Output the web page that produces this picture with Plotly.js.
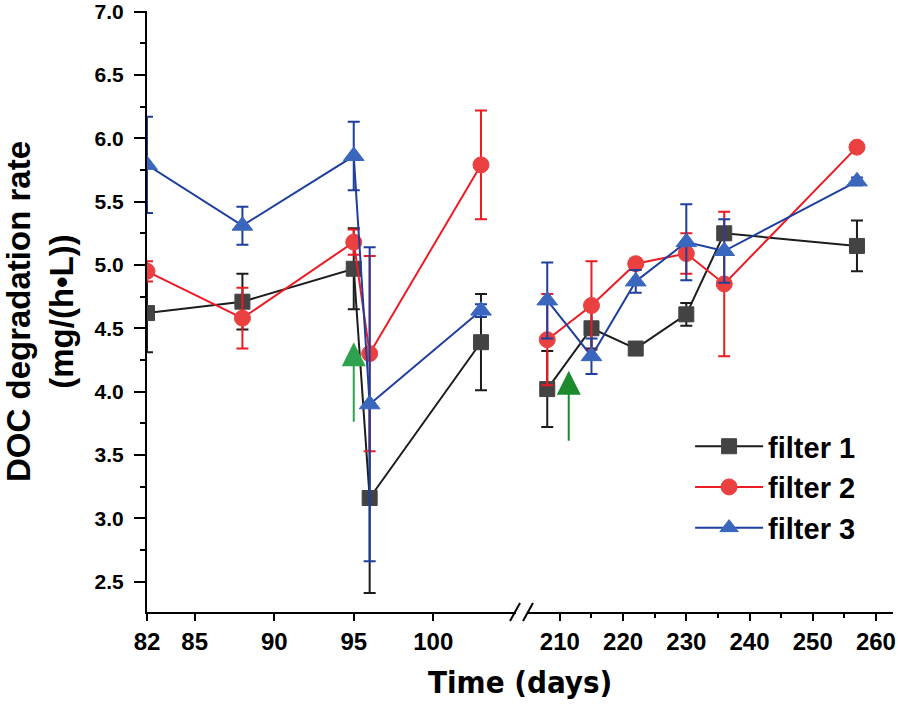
<!DOCTYPE html>
<html>
<head>
<meta charset="utf-8">
<script src="https://cdn.plot.ly/plotly-3.0.1.min.js"></script>
<style>html,body{margin:0;padding:0;background:#fff;}#chart{width:898px;height:705px;}</style>
</head>
<body>
<div id="chart"></div>
<script>
// ---- data ----
const seriesNames = ["filter 1", "filter 2", "filter 3"];

const daysEarly = [82, 88, 95, 96, 103];
const daysLate  = [208, 215, 222, 230, 236, 257];

const filter1Early = [4.62, 4.71, 4.97, 3.16, 4.39];
const filter1EarlyErr = [0.31, 0.22, 0.32, 0.75, 0.38];
const filter1Late = [4.02, 4.50, 4.34, 4.61, 5.25, 5.15];
const filter1LateErr = [0.30, 0.16, 0.05, 0.09, 0.05, 0.20];

const filter2Early = [4.95, 4.58, 5.18, 4.30, 5.79];
const filter2EarlyErr = [0.08, 0.24, 0.10, 0.77, 0.43];
const filter2Late = [4.41, 4.68, 5.01, 5.09, 4.85, 5.93];
const filter2LateErr = [0.36, 0.35, 0.04, 0.16, 0.57, 0.03];

const filter3Early = [5.79, 5.31, 5.86, 3.90, 4.64];
const filter3EarlyErr = [0.38, 0.15, 0.27, 1.24, 0.05];
const filter3Late = [4.72, 4.28, 4.87, 5.18, 5.11, 5.66];
const filter3LateErr = [0.30, 0.14, 0.09, 0.30, 0.25, 0.03];

const earlyTicks = [82, 85, 90, 95, 100];
const lateTicks = [210, 220, 230, 240, 250, 260];
const lateMinorTicks = [215, 225, 235, 245, 255];
const yTicks = [2.5, 3.0, 3.5, 4.0, 4.5, 5.0, 5.5, 6.0, 6.5, 7.0];

// arrows marking events: [x, tipY, tailY]
const arrowEarly = [95, 4.39, 3.75];
const arrowLate = [211.4, 4.165, 3.60];

// ---- styles ----
const styles = [
  {line: "#1c1c1c", fill: "#434343", symbol: "square", size: 15},
  {line: "#ec1c24", fill: "#ea4040", symbol: "circle", size: 16},
  {line: "#1f3f9f", fill: "#3a67bd", symbol: "triangle-up", size: 18}
];
const early = [filter1Early, filter2Early, filter3Early];
const earlyErr = [filter1EarlyErr, filter2EarlyErr, filter3EarlyErr];
const late = [filter1Late, filter2Late, filter3Late];
const lateErr = [filter1LateErr, filter2LateErr, filter3LateErr];

const traces = [];
for (let i = 0; i < 3; i++) {
  const s = styles[i];
  const common = {
    type: "scatter", mode: "lines+markers",
    line: {color: s.line, width: 2},
    marker: {symbol: s.symbol, size: s.size, color: s.fill, line: {color: s.fill, width: 1}},
    legendgroup: "g" + i, name: seriesNames[i], cliponaxis: true
  };
  traces.push(Object.assign({}, common, {
    x: daysEarly, y: early[i], xaxis: "x", yaxis: "y", showlegend: true,
    error_y: {type: "data", array: earlyErr[i], visible: true, color: s.line, thickness: 2, width: 6}
  }));
  traces.push(Object.assign({}, common, {
    x: daysLate, y: late[i], xaxis: "x2", yaxis: "y", showlegend: false,
    error_y: {type: "data", array: lateErr[i], visible: true, color: s.line, thickness: 2, width: 6}
  }));
}

const narrow = "'Liberation Sans Narrow', 'Arial Narrow', 'DejaVu Sans Condensed', sans-serif";
const arial = "'Liberation Sans', Arial, sans-serif";

const xCommon = {
  showline: true, linecolor: "#000", linewidth: 2, ticks: "outside", ticklen: 7, tickwidth: 2,
  tickcolor: "#000", showgrid: false, zeroline: false, ticklabeloverflow: "allow",
  tickfont: {family: arial, size: 24, color: "#000", weight: "bold"}, anchor: "y"
};

const layout = {
  width: 898, height: 705,
  margin: {l: 147, r: 5, t: 11, b: 93},
  paper_bgcolor: "#fff", plot_bgcolor: "#fff",
  showlegend: true,
  xaxis: Object.assign({}, xCommon, {domain: [0, 0.4946], range: [82, 105.2], tickmode: "array", tickvals: earlyTicks}),
  xaxis2: Object.assign({}, xCommon, {domain: [0.5094, 1], range: [204.8, 262.7], tickmode: "array", tickvals: lateTicks,
    minor: {tickvals: lateMinorTicks, ticklen: 4, tickwidth: 2, tickcolor: "#000", ticks: "outside"}}),
  yaxis: {
    range: [2.26, 7.005], tickmode: "array", tickvals: yTicks, ticktext: yTicks.map(v => v.toFixed(1)),
    showline: true, linecolor: "#000", linewidth: 2, ticks: "outside", ticklen: 11, tickwidth: 2, tickcolor: "#000",
    minor: {dtick: 0.25, tick0: 2.25, ticklen: 5, tickwidth: 2, tickcolor: "#000", ticks: "outside"},
    showgrid: false, zeroline: false, ticklabeloverflow: "allow", ticklabelstandoff: 6,
    tickfont: {family: arial, size: 21, color: "#000", weight: "bold"},
    title: {text: "DOC degradation rate<br>(mg/(h•L))", font: {family: arial, size: 33, color: "#000", weight: "bold"}, standoff: 22}
  },
  legend: {
    x: 0.728, y: 0.318, xanchor: "left", yanchor: "top",
    bgcolor: "rgba(0,0,0,0)", font: {family: arial, size: 29, color: "#000", weight: "bold"},
    itemwidth: 68, tracegroupgap: 3, traceorder: "normal"
  },
  annotations: [
    {text: "Time (days)", xref: "paper", yref: "paper", x: 0.5, y: 0, yshift: -50, xanchor: "center", yanchor: "top",
     showarrow: false, font: {family: narrow, size: 31, color: "#000", weight: "bold"}},
    {x: arrowEarly[0], y: arrowEarly[1], ax: arrowEarly[0], ay: arrowEarly[2], xref: "x", yref: "y", axref: "x", ayref: "y",
     showarrow: true, arrowhead: 2, arrowsize: 2.4, arrowwidth: 2, arrowcolor: "#2ea24f", text: ""},
    {x: arrowLate[0], y: arrowLate[1], ax: arrowLate[0], ay: arrowLate[2], xref: "x2", yref: "y", axref: "x2", ayref: "y",
     showarrow: true, arrowhead: 2, arrowsize: 2.4, arrowwidth: 2, arrowcolor: "#1d8a2e", text: ""}
  ],
  shapes: [0.4933, 0.5107].map(px => ({
    type: "line", xref: "paper", yref: "paper", xsizemode: "pixel", ysizemode: "pixel",
    xanchor: px, yanchor: 0, x0: -5, x1: 5, y0: -9, y1: 9,
    line: {color: "#000", width: 2}
  }))
};

Plotly.newPlot("chart", traces, layout, {displayModeBar: false, staticPlot: true});
</script>
</body>
</html>
